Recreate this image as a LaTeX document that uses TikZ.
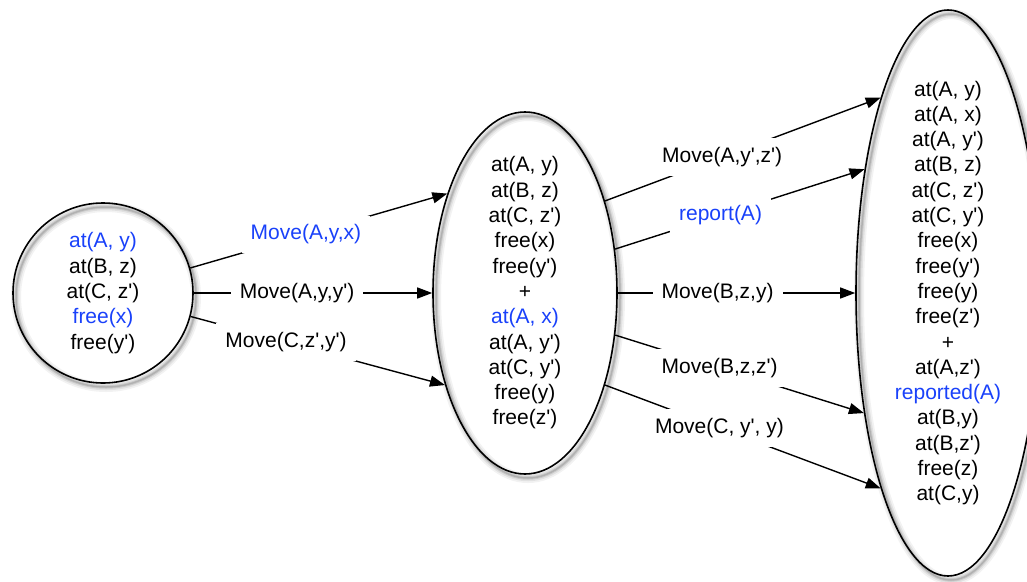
\documentclass[tikz,border=0pt]{standalone}
\usepackage{fontspec}
\setmainfont{Liberation Sans}[Ligatures=TeXOff]
\usetikzlibrary{arrows.meta,shapes.geometric}
\definecolor{factblue}{RGB}{25,65,250}
\tikzset{
  ringshadow/.style={
    preaction={draw=black, draw opacity=0.05, line width=10pt, transform canvas={xshift=3pt,yshift=-4pt}},
    preaction={draw=black, draw opacity=0.07, line width=6.5pt, transform canvas={xshift=3pt,yshift=-4pt}},
    preaction={draw=black, draw opacity=0.10, line width=3.5pt, transform canvas={xshift=3pt,yshift=-4pt}},
    preaction={draw=black, draw opacity=0.12, line width=1.5pt, transform canvas={xshift=3pt,yshift=-4pt}}},
  statebox/.style={draw=black, line width=1.6pt, ringshadow, inner sep=0pt},
  facts/.style={align=center, font=\fontsize{21}{25.3}\selectfont, inner sep=0pt},
  act/.style={draw=black, line width=1.4pt, -{Triangle[length=15pt,width=11pt]}},
  actlabel/.style={fill=white, font=\fontsize{21}{25.3}\selectfont, inner xsep=9pt, inner ysep=9pt},
}
\begin{document}
\begin{tikzpicture}[x=1pt,y=-1pt]
\useasboundingbox (0,0) rectangle (1027,581);
\clip (0,0) rectangle (1027,581);

% states
\node[statebox, circle, minimum size=180pt] (s0) at (103,293) {};
\node[statebox, ellipse, minimum width=184pt, minimum height=362pt] (s1) at (525,293) {};
\node[statebox, ellipse, minimum width=184pt, minimum height=566pt] (s2) at (948,293) {};

% facts holding in each state
\node[facts] (f0) at (s0) {\textcolor{factblue}{at(A, y)}\\at(B, z)\\at(C, z')\\\textcolor{factblue}{free(x)}\\free(y')};
\node[facts] (f1) at (s1) {at(A, y)\\at(B, z)\\at(C, z')\\free(x)\\free(y')\\+\\\textcolor{factblue}{at(A, x)}\\at(A, y')\\at(C, y')\\free(y)\\free(z')};
\node[facts] (f2) at (s2) {at(A, y)\\at(A, x)\\at(A, y')\\at(B, z)\\at(C, z')\\at(C, y')\\free(x)\\free(y')\\free(y)\\free(z')\\+\\at(A,z')\\\textcolor{factblue}{reported(A)}\\at(B,y)\\at(B,z')\\free(z)\\at(C,y)};

% actions from the first state
\draw[act] (s0.16) -- node[actlabel,pos=0.45,text=factblue] (a1) {Move(A,y,x)} (s1.128);
\draw[act] (s0.east) -- node[actlabel,pos=0.433] (a2) {Move(A,y,y')} (s1.west);
\draw[act] (s0.-15) -- node[actlabel,pos=0.375] (a3) {Move(C,z',y')} (s1.229);

% actions from the second state
\draw[act] (s1.49) -- node[actlabel,pos=0.425] (b1) {Move(A,y',z')} (s2.109);
\draw[act] (s1.26) -- node[actlabel,pos=0.423,text=factblue] (b2) {report(A)} (s2.124);
\draw[act] (s1.east) -- node[actlabel,pos=0.42] (b3) {Move(B,z,y)} (s2.west);
\draw[act] (s1.-25) -- node[actlabel,pos=0.42] (b4) {Move(B,z,z')} (s2.235);
\draw[act] (s1.-49) -- node[actlabel,pos=0.415] (b5) {Move(C, y', y)} (s2.251);
\end{tikzpicture}
\end{document}
